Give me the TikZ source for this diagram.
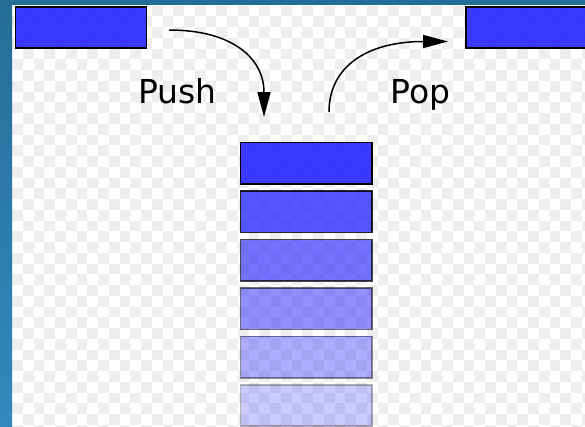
\documentclass[tikz,border=0pt]{standalone}
\usepackage{fontspec}
\setmainfont{DejaVu Sans}
\usetikzlibrary{arrows.meta}
\definecolor{frametop}{RGB}{36,110,150}
\definecolor{framebot}{RGB}{51,137,190}
\definecolor{checkgray}{RGB}{238,238,238}
\definecolor{itemblue}{RGB}{51,51,255}

\begin{document}
\begin{tikzpicture}[y=-1pt, x=1pt, inner sep=0pt, outer sep=0pt,
  item/.style={draw=black, fill=itemblue, line width=1.6pt,
    minimum width=131.3pt, minimum height=41.3pt},
  move/.style={draw=black, line width=1.5pt,
    -{Triangle[length=25pt,width=13pt]}},
  word/.style={anchor=base, font=\fontsize{33}{40}\selectfont}]
\useasboundingbox (0,0) rectangle (585,426);
\clip (0,0) rectangle (585,426);
% background
\fill[white] (0,0) rectangle (585,426);
\foreach \i in {0,...,53}
  \foreach \j in {0,...,39} {
    \pgfmathtruncatemacro\parity{mod(\i+\j,2)}
    \ifnum\parity=1
      \fill[checkgray] (12+10.75*\i,5.5+10.75*\j) rectangle ++(10.75,10.75);
    \fi
  }
\shade[top color=frametop, bottom color=framebot] (0,0) rectangle (12,426);
\fill[frametop] (0,0) rectangle (585,5);

% items
\node[item, fill opacity=0.97] (in) at (81,27.5) {};
\node[item, fill opacity=0.97] (out) at (531.5,27.5) {};
\foreach \k in {0,...,5}
  \node[item, opacity=1-\k/7, fill opacity=0.97-\k/7] (s\k) at (306.3,163.3+48.46*\k) {};

% labels
\node[word] (push) at (177.5,103) {Push};
\node[word] (pop) at (420.5,103) {Pop};

% arrows
\coordinate (pushA) at (169,30);
\coordinate (pushB) at (264,117);
\coordinate (popA) at (329,112);
\coordinate (popB) at (448,41.5);
\draw[move] (pushA) .. controls (232,30) and (264,58) .. (pushB);
\draw[move] (popA) .. controls (329,66) and (368,41.5) .. (popB);

\end{tikzpicture}
\end{document}
